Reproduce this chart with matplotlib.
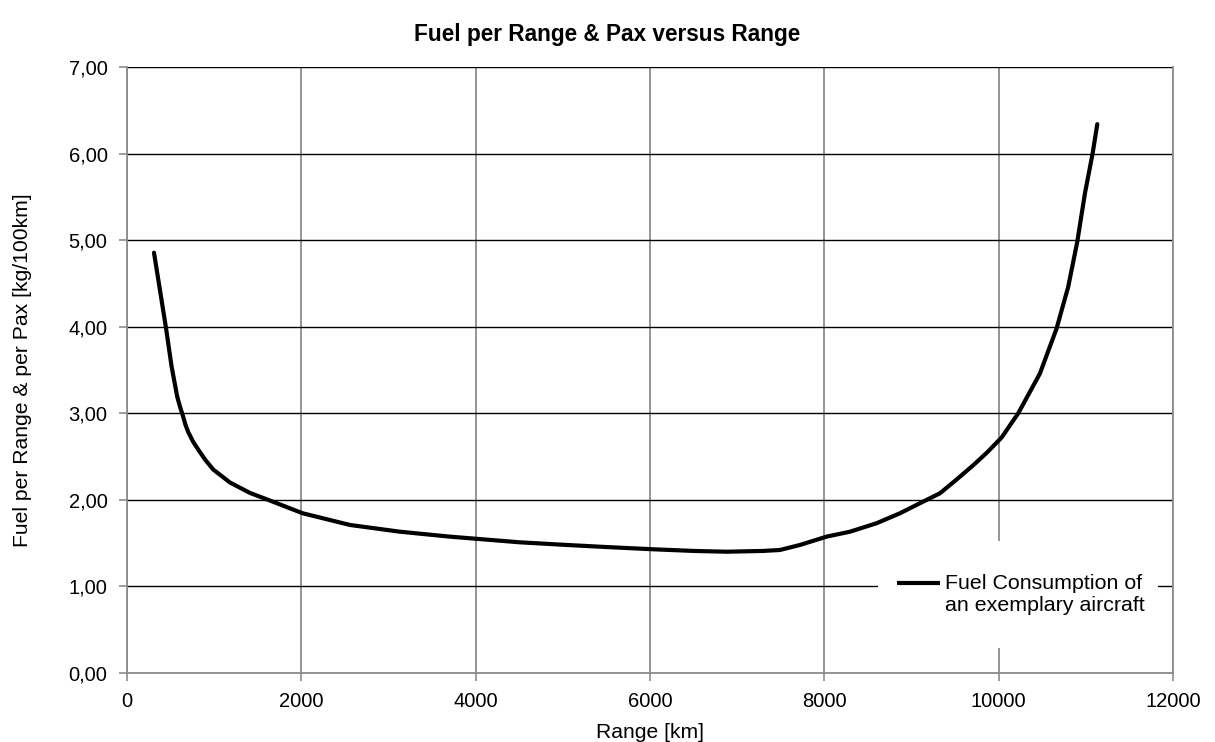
import matplotlib
matplotlib.use("Agg")
import matplotlib.pyplot as plt
from matplotlib.ticker import FuncFormatter, MultipleLocator
from matplotlib.patches import Rectangle

# Data
range_km = [310, 379, 447, 512, 577, 610, 639, 670, 704, 760, 818, 900, 990, 1182,
            1411, 1620, 2016, 2558, 3132, 3705, 4500, 5044, 5500, 6038, 6500,
            6879, 7300, 7491, 7721, 8026, 8294, 8600, 8868, 9135, 9327, 9500,
            9709, 9870, 10034, 10225, 10474, 10665, 10798, 10902, 10990, 11078,
            11132]
fuel = [4.855, 4.42, 3.99, 3.54, 3.19, 3.07, 2.98, 2.87, 2.78, 2.67, 2.58, 2.46,
        2.35, 2.20, 2.08, 2.00, 1.845, 1.71, 1.632, 1.575, 1.51, 1.479, 1.455,
        1.429, 1.41, 1.401, 1.41, 1.421, 1.479, 1.575, 1.632, 1.73, 1.845, 1.98,
        2.076, 2.22, 2.40, 2.55, 2.72, 3.00, 3.46, 3.98, 4.46, 4.98, 5.54, 6.00,
        6.34]
series_label = "Fuel Consumption of\nan exemplary aircraft"
title = "Fuel per Range & Pax versus Range"
xlabel = "Range [km]"
ylabel = "Fuel per Range & per Pax [kg/100km]"

plt.rcParams['font.family'] = ['Liberation Sans', 'DejaVu Sans']

fig = plt.figure(figsize=(12.15, 7.42), dpi=100)
ax = fig.add_axes([0.1045, 0.093, 0.8609, 0.8167])

ax.set_xlim(0, 12000)
ax.set_ylim(0, 7)
ax.xaxis.set_major_locator(MultipleLocator(2000))
ax.yaxis.set_major_locator(MultipleLocator(1))
ax.yaxis.set_major_formatter(FuncFormatter(lambda v, p: f"{v:.2f}".replace('.', ',')))

ax.set_axisbelow(True)
ax.grid(axis='y', color='black', linewidth=1.0)
ax.grid(axis='x', color='#8c8c8c', linewidth=1.3)

for s in ['left', 'bottom', 'right']:
    ax.spines[s].set_color('#8c8c8c')
    ax.spines[s].set_linewidth(1.3)
ax.spines['top'].set_visible(False)

ax.tick_params(axis='both', colors='#8c8c8c', length=6, width=1.2, labelcolor='black',
               labelsize=14.5, pad=8)

ax.plot(range_km, fuel, color='black', linewidth=3, solid_capstyle='round',
        solid_joinstyle='round', label=series_label, zorder=3)

# white box behind legend
ax.add_patch(Rectangle((0.718, 0.041), 0.268, 0.177, transform=ax.transAxes,
                       facecolor='white', edgecolor='none', zorder=2.5))
leg = ax.legend(loc='upper left', bbox_to_anchor=(0.736, 0.163), frameon=False,
                fontsize=15.4, handlelength=2.0, handletextpad=0.25, borderpad=0,
                borderaxespad=0)
leg.set_zorder(4)
for ln in leg.get_lines():
    yd = ln.get_ydata()
    ln.set_ydata([v + 8.5 for v in yd])
    ln.set_solid_capstyle('butt')

ax.set_xlabel(xlabel, fontsize=15.2, labelpad=8)
ax.set_ylabel(ylabel, fontsize=15.2, labelpad=26)
fig.text(0.5, 0.953, title, ha='center', va='center', fontsize=16.3, fontweight='bold')

fig.savefig("out.png", dpi=100)
